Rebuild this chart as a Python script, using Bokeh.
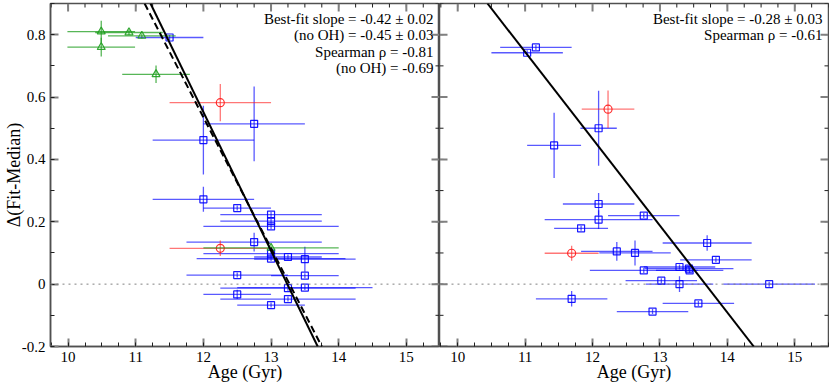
import numpy as np
from bokeh.plotting import figure
from bokeh.layouts import row
from bokeh.models import Range1d, Label, Span, Slope, LinearAxis, FixedTicker
from bokeh.embed import file_html
from bokeh.resources import INLINE

FONT = "Liberation Serif"

# ---------------- data ----------------
x_ticks = [10, 11, 12, 13, 14, 15]
x_tick_labels = ["10", "11", "12", "13", "14", "15"]
y_ticks = [-0.2, 0.0, 0.2, 0.4, 0.6, 0.8]
y_tick_labels = ["-0.2", "0", "0.2", "0.4", "0.6", "0.8"]
x_axis_title = "Age (Gyr)"
y_axis_title = "\u0394(Fit-Median)"

# left panel
left_blue_age = [11.50, 12.75, 12.00, 12.00, 12.50, 13.00, 13.00, 13.00, 12.75, 13.00,
                 13.00, 13.25, 13.50, 12.50, 13.50, 13.50, 13.25, 12.50, 13.25, 13.00]
left_blue_delta = [0.791, 0.514, 0.462, 0.272, 0.244, 0.223, 0.202, 0.185, 0.135, 0.098,
                   0.082, 0.087, 0.080, 0.029, 0.027, -0.011, -0.013, -0.033, -0.048, -0.067]
left_blue_age_err = [0.50, 0.75, 0.75, 0.75, 0.50, 0.75, 0.75, 1.00, 1.00, 1.00,
                     1.10, 0.50, 0.75, 0.75, 0.50, 1.00, 1.00, 0.50, 1.00, 0.50]
left_blue_delta_err = [0.008, 0.12, 0.11, 0.04, 0.008, 0.008, 0.008, 0.008, 0.03, 0.008,
                       0.008, 0.008, 0.04, 0.008, 0.008, 0.008, 0.008, 0.015, 0.008, 0.008]

left_red_age = [12.25, 12.25]
left_red_delta = [0.582, 0.115]
left_red_age_err = [0.75, 0.75]
left_red_delta_err = [0.06, 0.025]

left_green_age = [10.49, 10.90, 11.09, 10.49, 11.30, 13.00]
left_green_delta = [0.810, 0.807, 0.796, 0.760, 0.673, 0.116]
left_green_age_err = [0.50, 0.50, 0.50, 0.50, 0.50, 1.00]
left_green_delta_err = [0.035, 0.008, 0.008, 0.03, 0.028, 0.008]

left_fit_slope = [-0.445, -0.42]        # solid (all), dashed (no OH)
left_fit_intercept = [5.892, 5.575]
left_notes = ["Best-fit slope = -0.42 \u00b1 0.02", "(no OH) = -0.45 \u00b1 0.03",
              "Spearman \u03c1 = -0.81", "(no OH) = -0.69"]

# right panel
right_blue_age = [11.16, 11.03, 12.09, 11.43, 12.09, 12.76, 12.09, 11.83, 12.36, 12.63, 13.70,
                  13.83, 13.29, 13.43, 13.44, 12.76, 13.02, 13.29, 14.62, 11.69, 13.57, 12.89]
right_blue_delta = [0.759, 0.742, 0.500, 0.445, 0.257, 0.220, 0.207, 0.179, 0.105, 0.100, 0.132,
                    0.078, 0.055, 0.050, 0.044, 0.044, 0.011, 0.000, 0.000, -0.047, -0.062, -0.088]
right_blue_age_err = [0.53, 0.53, 0.27, 0.40, 0.53, 0.53, 0.80, 0.40, 0.53, 0.53, 0.66,
                      0.53, 0.53, 0.66, 0.50, 0.80, 0.53, 0.50, 0.68, 0.53, 0.53, 0.53]
right_blue_delta_err = [0.008, 0.008, 0.12, 0.105, 0.035, 0.008, 0.03, 0.008, 0.03, 0.04, 0.025,
                        0.008, 0.008, 0.008, 0.008, 0.008, 0.008, 0.025, 0.008, 0.025, 0.008, 0.008]

right_red_age = [12.23, 11.69]
right_red_delta = [0.561, 0.099]
right_red_age_err = [0.39, 0.40]
right_red_delta_err = [0.06, 0.024]

right_fit_slope = [-0.2785]
right_fit_intercept = [3.808]
right_notes = ["Best-fit slope = -0.28 \u00b1 0.03", "Spearman \u03c1 = -0.61"]

LEFT_XR = (9.74, 15.49)
RIGHT_XR = (9.73, 15.50)
YR = (-0.2, 0.9)

# ---------------- layout constants ----------------
FW = 389
FH = 343

BLUE = "#0000ff"
RED = "#ff1a1a"
GREEN = "#1f9e1f"
AXC = "#505050"
MAJC = "#808080"
MINC = "#202020"

x_minor = [float(v) for v in np.round(np.arange(9.75, 15.51, 0.25), 2)]
y_minor = [float(v) for v in np.round(np.arange(-0.2, 0.91, 0.1), 2)]


def style_axis(ax, ticks, minor, labels, title, title_standoff):
    ax.ticker = FixedTicker(ticks=ticks, minor_ticks=minor)
    ax.major_tick_in = 8
    ax.major_tick_out = 0
    ax.minor_tick_in = 4
    ax.minor_tick_out = 0
    ax.axis_line_color = AXC
    ax.axis_line_width = 1.5
    ax.major_tick_line_color = MAJC
    ax.major_tick_line_width = 2
    ax.minor_tick_line_color = MINC
    ax.minor_tick_line_width = 1
    ax.major_label_overrides = {t: l for t, l in zip(ticks, labels)}
    ax.major_label_text_font = FONT
    ax.major_label_text_font_size = "15px"
    ax.major_label_text_color = "black"
    ax.major_label_standoff = 5
    ax.axis_label = title
    ax.axis_label_text_font = FONT
    ax.axis_label_text_font_size = "18px"
    ax.axis_label_text_font_style = "normal"
    ax.axis_label_text_color = "black"
    ax.axis_label_standoff = title_standoff


def inner_ticks(p, xr, sides):
    pxx = (xr[1] - xr[0]) / FW
    pxy = (YR[1] - YR[0]) / FH
    if "top" in sides:
        for vals, ln, col, w in ((x_minor, 4, MINC, 1), (x_ticks, 8, MAJC, 2)):
            v = np.array(vals, dtype=float)
            p.segment(x0=v, y0=np.full(len(v), YR[1]), x1=v, y1=np.full(len(v), YR[1] - ln * pxy),
                      line_color=col, line_width=w)
    for side in ("left", "right"):
        if side in sides:
            edge = xr[0] if side == "left" else xr[1]
            sgn = 1 if side == "left" else -1
            for vals, ln, col, w in ((y_minor, 4, MINC, 1), (y_ticks, 8, MAJC, 2)):
                v = np.array(vals, dtype=float)
                p.segment(x0=np.full(len(v), edge), y0=v, x1=np.full(len(v), edge + sgn * ln * pxx),
                          y1=v, line_color=col, line_width=w)
    return pxx, pxy


def make_panel(xr, with_left_axis, rb):
    p = figure(frame_width=FW, frame_height=FH, x_range=Range1d(*xr), y_range=Range1d(*YR),
               output_backend="svg", toolbar_location=None,
               x_axis_location=None, y_axis_location=None,
               min_border_left=0, min_border_right=rb,
               min_border_top=3, min_border_bottom=0)
    p.xgrid.visible = False
    p.ygrid.visible = False
    p.outline_line_color = AXC
    p.outline_line_width = 1.5
    p.background_fill_color = "white"
    p.border_fill_color = "white"

    below = LinearAxis()
    style_axis(below, x_ticks, x_minor, x_tick_labels, x_axis_title, -3)
    p.add_layout(below, "below")
    if with_left_axis:
        left = LinearAxis()
        style_axis(left, y_ticks, y_minor, y_tick_labels, y_axis_title, -5)
        p.add_layout(left, "left")

    p.add_layout(Span(location=0, dimension="width", line_color="#808080",
                      line_dash="dotted", line_width=1))
    return p


def draw_series(p, age, delta, age_err, delta_err, color, marker, size, bar_alpha):
    age = np.array(age)
    delta = np.array(delta)
    ae = np.array(age_err)
    de = np.array(delta_err)
    p.segment(x0=age - ae, y0=delta, x1=age + ae, y1=delta,
              line_color=color, line_alpha=bar_alpha, line_width=1.3)
    p.segment(x0=age, y0=delta - de, x1=age, y1=delta + de,
              line_color=color, line_alpha=bar_alpha, line_width=1.3)
    p.scatter(age, delta, marker=marker, size=size, line_color=color,
              fill_color=None, line_width=1.2, line_alpha=0.9)


note_offsets = [15, 31, 48, 64]

# ---------------- left panel ----------------
p1 = make_panel(LEFT_XR, True, 0)
pxx1, pxy1 = inner_ticks(p1, LEFT_XR, ("top", "right"))
draw_series(p1, left_blue_age, left_blue_delta, left_blue_age_err, left_blue_delta_err,
            BLUE, "square", 7, 0.65)
draw_series(p1, left_red_age, left_red_delta, left_red_age_err, left_red_delta_err,
            RED, "circle", 8, 0.6)
draw_series(p1, left_green_age, left_green_delta, left_green_age_err, left_green_delta_err,
            GREEN, "triangle", 8, 0.75)
p1.add_layout(Slope(gradient=left_fit_slope[0], y_intercept=left_fit_intercept[0],
                    line_color="black", line_width=2))
p1.add_layout(Slope(gradient=left_fit_slope[1], y_intercept=left_fit_intercept[1],
                    line_color="black", line_width=2, line_dash="7 4"))
for txt, off in zip(left_notes, note_offsets):
    p1.add_layout(Label(x=LEFT_XR[1] - 6 * pxx1, y=YR[1] - off * pxy1, text=txt,
                        text_font=FONT, text_font_size="15px", text_align="right",
                        text_baseline="middle", text_color="black"))

# ---------------- right panel ----------------
p2 = make_panel(RIGHT_XR, False, 1)
pxx2, pxy2 = inner_ticks(p2, RIGHT_XR, ("top", "left", "right"))
draw_series(p2, right_blue_age, right_blue_delta, right_blue_age_err, right_blue_delta_err,
            BLUE, "square", 7, 0.65)
draw_series(p2, right_red_age, right_red_delta, right_red_age_err, right_red_delta_err,
            RED, "circle", 8, 0.6)
p2.add_layout(Slope(gradient=right_fit_slope[0], y_intercept=right_fit_intercept[0],
                    line_color="black", line_width=2))
for txt, off in zip(right_notes, note_offsets):
    p2.add_layout(Label(x=RIGHT_XR[1] - 6 * pxx2, y=YR[1] - off * pxy2, text=txt,
                        text_font=FONT, text_font_size="15px", text_align="right",
                        text_baseline="middle", text_color="black"))

layout = row(p1, p2, spacing=0)
open("out.html", "w").write(file_html(layout, INLINE))
